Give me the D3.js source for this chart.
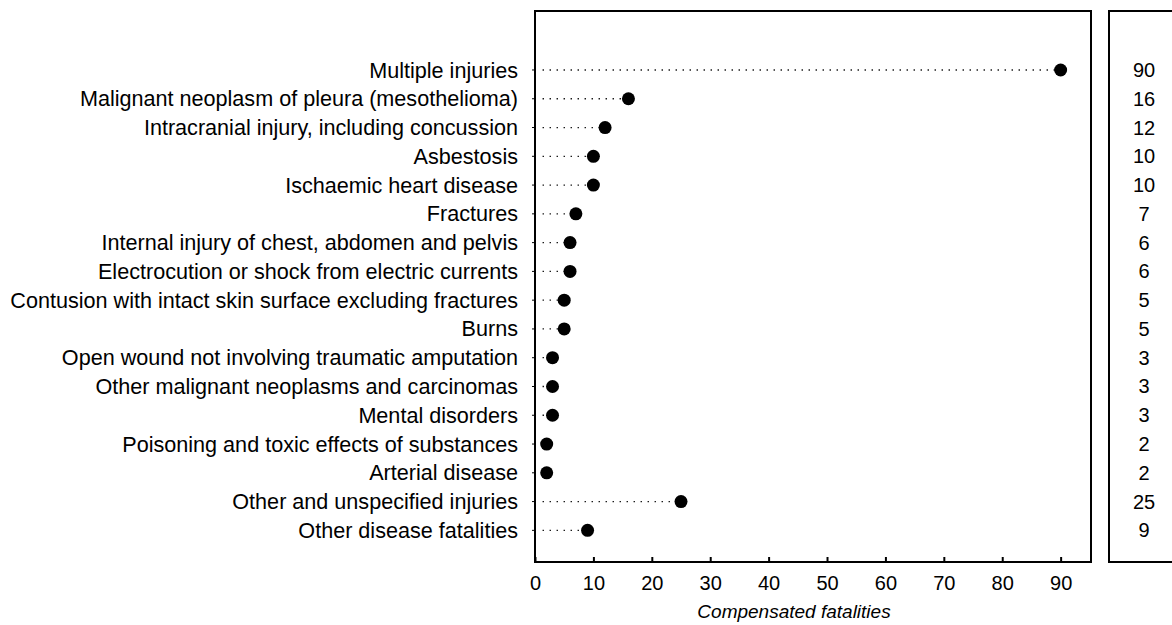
<!DOCTYPE html>
<html>
<head>
<meta charset="utf-8">
<script src="https://cdn.jsdelivr.net/npm/d3@7"></script>
<style>
  body { margin: 0; background: #fff; }
  svg { font-family: Arial, "Liberation Sans", sans-serif; }
</style>
</head>
<body>
<svg width="1172" height="625"></svg>
<script>
// Données
var causes = [
  "Multiple injuries",
  "Malignant neoplasm of pleura (mesothelioma)",
  "Intracranial injury, including concussion",
  "Asbestosis",
  "Ischaemic heart disease",
  "Fractures",
  "Internal injury of chest, abdomen and pelvis",
  "Electrocution or shock from electric currents",
  "Contusion with intact skin surface excluding fractures",
  "Burns",
  "Open wound not involving traumatic amputation",
  "Other malignant neoplasms and carcinomas",
  "Mental disorders",
  "Poisoning and toxic effects of substances",
  "Arterial disease",
  "Other and unspecified injuries",
  "Other disease fatalities"
];
var fatalities = [90, 16, 12, 10, 10, 7, 6, 6, 5, 5, 3, 3, 3, 2, 2, 25, 9];
var xTicks = [0, 10, 20, 30, 40, 50, 60, 70, 80, 90];

var svg = d3.select("svg");

// zone du graphique
var plotLeft = 535, plotRight = 1091, plotTop = 11, plotBottom = 562;

var x = d3.scaleLinear().domain([0, 95.2]).range([plotLeft, plotRight]);
var y = d3.scaleLinear().domain([-2.05, 17.1]).range([plotTop, plotBottom]);

// cadre principal
svg.append("rect")
  .attr("x", plotLeft).attr("y", plotTop)
  .attr("width", plotRight - plotLeft).attr("height", plotBottom - plotTop)
  .attr("fill", "none").attr("stroke", "#000").attr("stroke-width", 2);

// cadre de droite (valeurs)
svg.append("path")
  .attr("d", "M1180," + plotBottom + "H1109V" + plotTop + "H1180")
  .attr("fill", "none").attr("stroke", "#000").attr("stroke-width", 2);

// lignes pointillées
svg.selectAll("line.dot")
  .data(fatalities)
  .enter()
  .append("line")
  .attr("class", "dot")
  .attr("x1", x(1.3))
  .attr("x2", function(d) { return x(d); })
  .attr("y1", function(d, i) { return y(i); })
  .attr("y2", function(d, i) { return y(i); })
  .attr("stroke", "#000")
  .attr("stroke-width", 1.3)
  .attr("stroke-dasharray", "1.3,5.7");

// petits traits sur l'axe gauche
svg.selectAll("line.ytick")
  .data(fatalities)
  .enter()
  .append("line")
  .attr("class", "ytick")
  .attr("x1", plotLeft - 3).attr("x2", plotLeft)
  .attr("y1", function(d, i) { return y(i); })
  .attr("y2", function(d, i) { return y(i); })
  .attr("stroke", "#000");

// points
svg.selectAll("circle")
  .data(fatalities)
  .enter()
  .append("circle")
  .attr("cx", function(d) { return x(d); })
  .attr("cy", function(d, i) { return y(i); })
  .attr("r", 6.5)
  .attr("fill", "#000");

// étiquettes des causes
svg.selectAll("text.cause")
  .data(causes)
  .enter()
  .append("text")
  .attr("class", "cause")
  .attr("x", plotLeft - 17)
  .attr("y", function(d, i) { return y(i); })
  .attr("dy", "0.35em")
  .attr("text-anchor", "end")
  .attr("font-size", "21.6px")
  .attr("fill", "#000")
  .text(function(d) { return d; });

// valeurs à droite
svg.selectAll("text.val")
  .data(fatalities)
  .enter()
  .append("text")
  .attr("class", "val")
  .attr("x", 1144)
  .attr("y", function(d, i) { return y(i); })
  .attr("dy", "0.35em")
  .attr("text-anchor", "middle")
  .attr("font-size", "20px")
  .text(function(d) { return d; });

// axe X
var xAxis = d3.axisBottom(x)
  .tickValues(xTicks)
  .tickSizeInner(-5)
  .tickSizeOuter(0)
  .tickPadding(14);

var gx = svg.append("g")
  .attr("transform", "translate(0," + plotBottom + ")")
  .call(xAxis);
gx.select(".domain").remove();
gx.selectAll(".tick line").attr("stroke-width", 2);
gx.selectAll(".tick text")
  .attr("font-size", "20px")
  .attr("font-family", "Arial, 'Liberation Sans', sans-serif")
  .attr("fill", "#000");

svg.append("text")
  .attr("x", 794)
  .attr("y", 618)
  .attr("text-anchor", "middle")
  .attr("font-size", "19px")
  .attr("font-style", "italic")
  .text("Compensated fatalities");
</script>
</body>
</html>
